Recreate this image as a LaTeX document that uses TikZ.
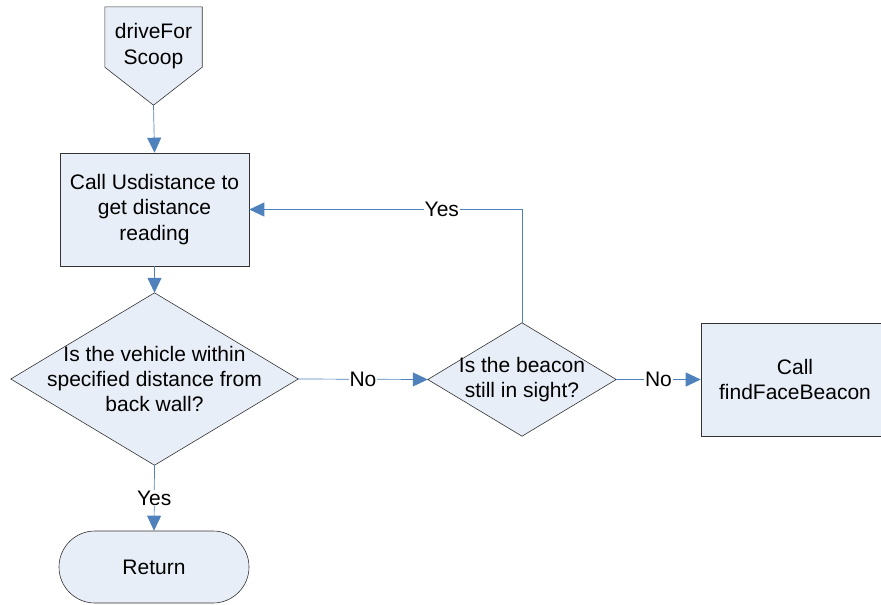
\documentclass[tikz,border=0pt]{standalone}
\usepackage{fontspec}
\setmainfont{Liberation Sans}
\usetikzlibrary{arrows.meta,backgrounds,calc}
\definecolor{shapefill}{HTML}{E8EEF7}
\definecolor{conn}{HTML}{4F81BD}
\definecolor{edgeline}{HTML}{333333}
\begin{document}
\begin{tikzpicture}[x=1pt,y=-1pt,
  font=\fontsize{21}{25.3}\selectfont,
  proc/.style={draw=edgeline, fill=shapefill, line width=0.6pt, inner sep=0pt, align=center},
  box/.style={inner sep=0pt, align=center},
  flow/.style={draw=conn, line width=0.7pt, -{Triangle[length=15pt,width=14pt]}},
  lbl/.style={fill=white, inner sep=1pt, text=black}]
\useasboundingbox (0,0) rectangle (881,605);

% start (off-page connector)
\node[box, minimum width=97pt, minimum height=98pt] (start) at (153.5,56) {};
\node[box] (starttxt) at (153.5,46) {driveFor\\Scoop};

\node[proc, minimum width=189pt, minimum height=113pt] (b1) at (154.5,209.5) {Call Usdistance to\\get distance\\reading};

\node[box, minimum width=287pt, minimum height=172pt] (d1) at (154.5,379) {Is the vehicle within\\specified distance from\\back wall?};

\node[box, minimum width=188pt, minimum height=113pt] (d2) at (522,379.5) {Is the beacon\\still in sight?};

\node[proc, minimum width=188pt, minimum height=113pt] (b3) at (795,379.5) {Call\\findFaceBeacon};

\node[proc, rounded corners=36pt, minimum width=190pt, minimum height=72pt] (term) at (154,567) {Return};

\begin{scope}[on background layer]
  \draw[proc] (start.north west) -- (start.north east) -- ($(start.south east)+(0,-38)$) -- (start.south) -- ($(start.south west)+(0,-38)$) -- cycle;
  \draw[proc] (d1.north) -- (d1.east) -- (d1.south) -- (d1.west) -- cycle;
  \draw[proc] (d2.north) -- (d2.east) -- (d2.south) -- (d2.west) -- cycle;
\end{scope}

\draw[flow] (start.south) -- (b1.north);
\draw[flow] (b1.south) -- (d1.north);
\draw[flow] (d1.east) -- node[lbl]{No} (d2.west);
\draw[flow] (d2.east) -- node[lbl]{No} (b3.west);
\draw[flow] (d2.north) |- node[lbl, pos=0.647]{Yes} (b1.east);
\draw[flow] (d1.south) -- node[lbl]{Yes} (term.north);
\end{tikzpicture}
\end{document}
